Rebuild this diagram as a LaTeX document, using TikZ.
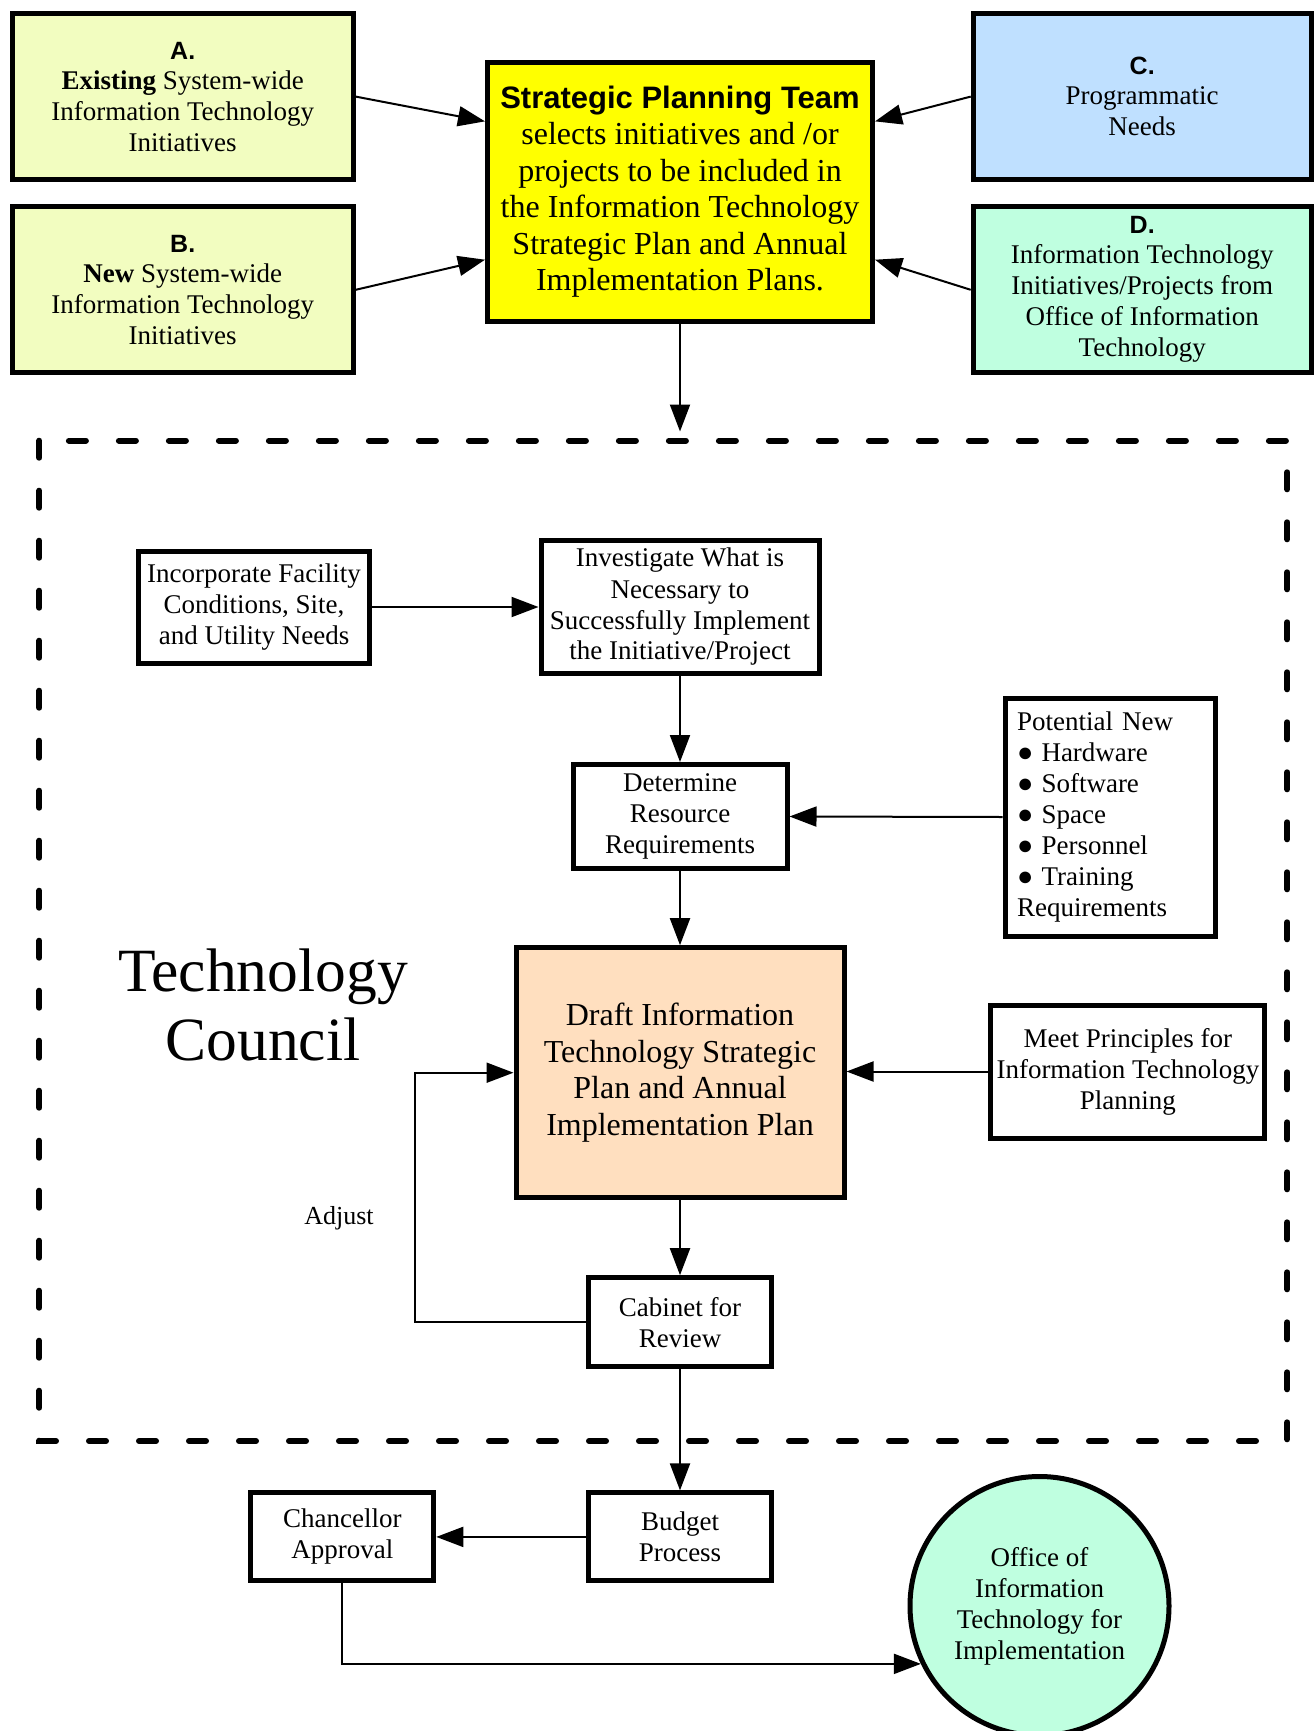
\documentclass[tikz,border=0pt]{standalone}
\usepackage{fontspec}
\setmainfont{Liberation Serif}
\setsansfont{Liberation Sans}
\usetikzlibrary{arrows.meta,calc}
\definecolor{cAB}{RGB}{242,253,192}
\definecolor{cSPT}{RGB}{255,255,0}
\definecolor{cC}{RGB}{191,224,255}
\definecolor{cD}{RGB}{191,255,224}
\definecolor{cDraft}{RGB}{255,223,191}
\tikzset{
  box/.style={draw=black, line width=5pt, align=center, inner sep=2pt,
    font=\fontsize{27}{31}\selectfont},
  conn/.style={line width=2pt, -{Triangle[length=27pt,width=20pt]}},
}
\newcommand{\lbl}[1]{{\fontsize{25}{30}\selectfont\sffamily\bfseries #1}}
\begin{document}
\begin{tikzpicture}[x=1pt,y=-1pt]
\useasboundingbox (0,0) rectangle (1315,1731);
% top boxes
\node[box, fill=cAB, minimum width=341pt, minimum height=166pt] (a) at (182.7,96.6)
  {\lbl{A.}\\[-1pt]\textbf{Existing} System-wide\\Information Technology\\Initiatives};
\node[box, fill=cAB, minimum width=341pt, minimum height=166pt] (b) at (182.7,289.8)
  {\lbl{B.}\\[-1pt]\textbf{New} System-wide\\Information Technology\\Initiatives};
\node[box, fill=cSPT, minimum width=385pt, minimum height=259pt, font=\fontsize{32}{36.5}\selectfont] (spt) at (680,191.6)
  {{\fontsize{31}{36.5}\selectfont\sffamily\bfseries Strategic Planning Team}\\selects initiatives and /or\\projects to be included in\\the Information Technology\\Strategic Plan and Annual\\Implementation Plans.};
\node[box, fill=cC, minimum width=338pt, minimum height=166pt] (c) at (1142.2,96.6)
  {\lbl{C.}\\[-1pt]Programmatic\\Needs};
\node[box, fill=cD, minimum width=338pt, minimum height=166pt] (d) at (1142.2,289.8)
  {\lbl{D.}\\[-1pt]Information Technology\\Initiatives/Projects from\\Office of Information\\Technology};
% dashed council frame
\draw[line width=6pt, line cap=round, dash pattern=on 17pt off 33pt] (39.3,440.7) rectangle (1287.3,1441);
\coordinate (frametop) at (680,431.5);
% inner boxes
\node[box, minimum width=231pt, minimum height=112pt] (inc) at (254,607)
  {Incorporate Facility\\Conditions, Site,\\and Utility Needs};
\node[box, minimum width=278pt, minimum height=133pt] (inv) at (680,607)
  {Investigate What is\\Necessary to\\Successfully Implement\\the Initiative/Project};
\node[box, minimum width=214pt, minimum height=104pt] (det) at (680,816.5)
  {Determine\\Resource\\Requirements};
\node[box, align=left, text width=186pt, inner xsep=12pt, minimum height=238pt] (pot) at (1110.2,817)
  {Potential New\\●\hspace{8pt}Hardware\\●\hspace{8pt}Software\\●\hspace{8pt}Space\\●\hspace{8pt}Personnel\\●\hspace{8pt}Training\\Requirements};
\node[box, fill=cDraft, minimum width=328pt, minimum height=250pt, font=\fontsize{32}{36.5}\selectfont] (draft) at (680,1072.7)
  {Draft Information\\Technology Strategic\\Plan and Annual\\Implementation Plan};
\node[box, minimum width=274pt, minimum height=133pt] (meet) at (1127.9,1071.5)
  {Meet Principles for\\Information Technology\\Planning};
\node[box, minimum width=183pt, minimum height=89pt] (cab) at (680,1322.2)
  {Cabinet for\\Review};
\node[box, minimum width=183pt, minimum height=88pt] (bud) at (680,1536.9)
  {Budget\\Process};
\node[box, minimum width=183pt, minimum height=88pt] (chan) at (342.3,1536.9)
  {Chancellor\\Approval};
\node[box, circle, fill=cD, minimum size=259pt, inner sep=0pt] (circ) at (1039.5,1606)
  {Office of\\Information\\Technology for\\Implementation};
% free texts
\node[align=center, font=\fontsize{61.5}{69.6}\selectfont] (tc) at (263,1005) {Technology\\Council};
\node[font=\fontsize{26}{31}\selectfont] (adj) at (339,1218) {Adjust};
% connectors
\draw[conn] (a.east) -- ($(spt.north west)!0.234!(spt.south west)$);
\draw[conn] (b.east) -- ($(spt.north west)!0.758!(spt.south west)$);
\draw[conn] (c.west) -- ($(spt.north east)!0.234!(spt.south east)$);
\draw[conn] (d.west) -- ($(spt.north east)!0.758!(spt.south east)$);
\draw[conn] (spt.south) -- (frametop);
\draw[conn] (inc.east) -- (inv.west);
\draw[conn] (inv.south) -- (det.north);
\draw[conn] (pot.west) -- (det.east);
\draw[conn] (det.south) -- (draft.north);
\draw[conn] (meet.west) -- (meet.west -| draft.east);
\draw[conn] (draft.south) -- (cab.north);
\coordinate (fb) at (415,1322.2);
\draw[conn] (cab.west) -- (fb) |- (draft.west);
\draw[conn] (cab.south) -- (bud.north);
\draw[conn] (bud.west) -- (chan.east);
\draw[conn] (chan.south) |- (circ.206);
\end{tikzpicture}
\end{document}
